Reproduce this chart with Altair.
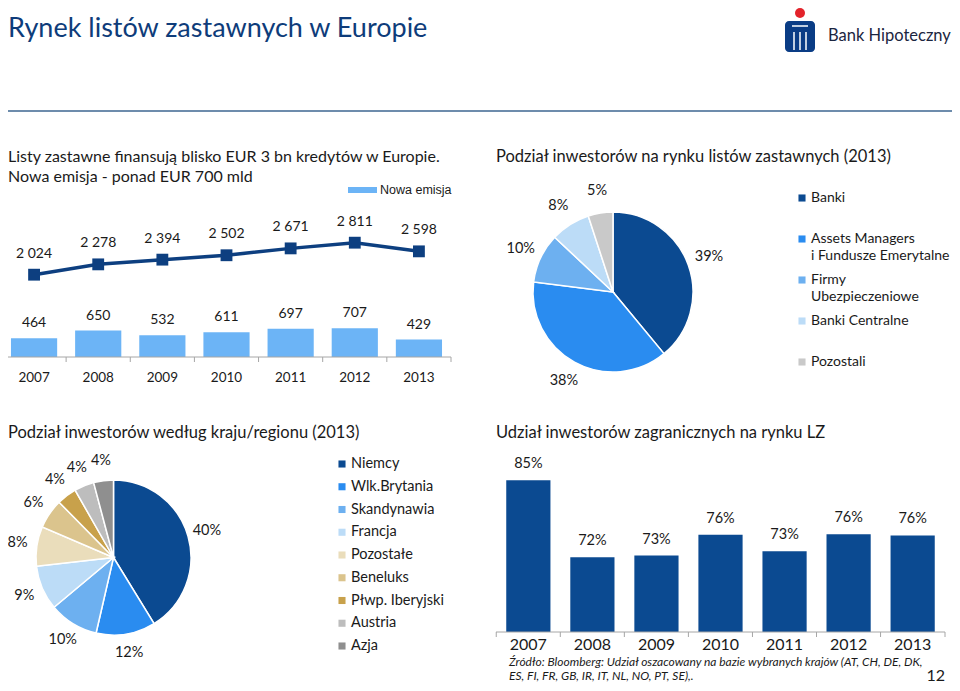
import altair as alt
import pandas as pd

# ---------------- data ----------------
years = ["2007", "2008", "2009", "2010", "2011", "2012", "2013"]
outstanding = [2024, 2278, 2394, 2502, 2671, 2811, 2598]      # EUR bn, line
new_issue = [464, 650, 532, 611, 697, 707, 429]               # EUR bn, bars

inv_types = ["Banki", "Assets Managers i Fundusze Emerytalne", "Firmy Ubezpieczeniowe",
             "Banki Centralne", "Pozostali"]
inv_legend = ["Banki", "Assets Managers\ni Fundusze Emerytalne", "Firmy\nUbezpieczeniowe",
              "Banki Centralne", "Pozostali"]
inv_share = [39, 38, 10, 8, 5]

regions = ["Niemcy", "Wlk.Brytania", "Skandynawia", "Francja", "Pozostałe", "Beneluks",
           "Płwp. Iberyjski", "Austria", "Azja"]
region_share = [40, 12, 10, 9, 8, 6, 4, 4, 4]

foreign_share = [85.0, 72.3, 72.6, 76.0, 73.3, 76.1, 75.9]   # %

# ---------------- style ----------------
FONT = "Lato"
INK = "#1a1a1a"
TITLE_BLUE = "#0E3C7A"
DARK = "#0B4A91"
LINE_DARK = "#0D3F80"
BRIGHT = "#2A8CF0"
MID = "#6DB0F0"
LIGHT = "#BCDCF7"
TL_BAR = "#6CB4F6"
AXIS = "#A6A6A6"
inv_colors = [DARK, BRIGHT, MID, LIGHT, "#C9C9C9"]
region_colors = [DARK, BRIGHT, MID, LIGHT, "#EADDBB", "#DBC48D", "#C8A14B", "#BDBDBD", "#8F8F8F"]

ONE = pd.DataFrame({"k": [0]})


def txt(s, x, y, size, color=INK, font=FONT, align="left", baseline="alphabetic",
        style="normal", weight="normal"):
    return alt.Chart(ONE).mark_text(
        text=s, align=align, baseline=baseline, font=font, fontSize=size, color=color,
        fontStyle=style, fontWeight=weight
    ).encode(x=alt.value(x), y=alt.value(y))


layers = []

# ---------------- header ----------------
layers.append(txt("Rynek listów zastawnych w Europie", 0, 29, 27, color=TITLE_BLUE))
layers.append(alt.Chart(ONE).mark_rule(color="#3C6690", strokeWidth=1.5).encode(
    x=alt.value(0), x2=alt.value(944), y=alt.value(103)))
# logo
layers.append(alt.Chart(ONE).mark_rect(color="#0A3C85", cornerRadius=4).encode(
    x=alt.value(777), x2=alt.value(807), y=alt.value(13), y2=alt.value(44)))
layers.append(alt.Chart(ONE).mark_rule(color="white", strokeWidth=1.5).encode(
    x=alt.value(784), x2=alt.value(800), y=alt.value(18)))
for xv in [786, 792, 798]:
    layers.append(alt.Chart(ONE).mark_rule(color="white", strokeWidth=1.5).encode(
        x=alt.value(xv), y=alt.value(24), y2=alt.value(42)))
layers.append(alt.Chart(ONE).mark_circle(color="#E3232B", size=100, opacity=1).encode(
    x=alt.value(792), y=alt.value(5)))
layers.append(txt("Bank Hipoteczny", 820, 33, 16.5, color="#1B2540"))

# ---------------- top-left: issuance ----------------
layers.append(txt("Listy zastawne finansują blisko EUR 3 bn kredytów w Europie.", 0, 154, 16))
layers.append(txt("Nowa emisja - ponad EUR 700 mld", 0, 174, 16))
layers.append(alt.Chart(ONE).mark_rect(color=TL_BAR).encode(
    x=alt.value(340), x2=alt.value(369), y=alt.value(179), y2=alt.value(185)))
layers.append(txt("Nowa emisja", 372, 182, 12.5, font="Liberation Sans", baseline="middle"))

df1 = pd.DataFrame({"year": years, "total": outstanding, "new": new_issue})
sc_x1 = alt.Scale(domain=years, range=[-6, 443], paddingInner=0.28, paddingOuter=0.14)
sc_y1 = alt.Scale(domain=[0, 3000], range=[349, 227])
x1 = alt.X("year:N", axis=None, scale=sc_x1)
base1 = alt.Chart(df1)
tl = alt.layer(
    base1.mark_bar(color=TL_BAR).encode(x=x1, y=alt.Y("new:Q", axis=None, scale=sc_y1)),
    base1.mark_text(dy=-15, font=FONT, fontSize=14, color=INK).encode(
        x=x1, y=alt.Y("new:Q", axis=None, scale=sc_y1), text=alt.Text("new:Q", format="d")),
    base1.mark_line(color=LINE_DARK, strokeWidth=3.5).encode(
        x=x1, y=alt.Y("total:Q", axis=None, scale=sc_y1)),
    base1.mark_square(color=LINE_DARK, size=140, opacity=1).encode(
        x=x1, y=alt.Y("total:Q", axis=None, scale=sc_y1)),
    base1.transform_calculate(lbl="replace(format(datum.total, ','), ',', ' ')").mark_text(
        dy=-21, font=FONT, fontSize=14, color=INK).encode(
        x=x1, y=alt.Y("total:Q", axis=None, scale=sc_y1), text="lbl:N"),
    base1.mark_text(font=FONT, fontSize=13.5, color=INK).encode(
        x=x1, y=alt.value(370), text="year:N"),
    base1.mark_rule(color=AXIS, xOffset=-9).encode(
        x=alt.X("year:N", axis=None, scale=sc_x1, bandPosition=0),
        y=alt.value(349), y2=alt.value(354)),
    alt.Chart(ONE).mark_rule(color=AXIS).encode(x=alt.value(443), y=alt.value(349), y2=alt.value(354)),
    alt.Chart(ONE).mark_rule(color=AXIS).encode(x=alt.value(-6), x2=alt.value(443), y=alt.value(349)),
)
layers.append(tl)

# ---------------- top-right: investor pie ----------------
layers.append(txt("Podział inwestorów na rynku listów zastawnych (2013)", 488, 154, 16.5))
df2 = pd.DataFrame({"cat": inv_types, "share": inv_share, "ord": list(range(len(inv_types))),
                    "legend": inv_legend})
col2 = alt.Color("cat:N", scale=alt.Scale(domain=inv_types, range=inv_colors), legend=None)
th2 = alt.Theta("share:Q", stack=True)
pie1 = alt.layer(
    alt.Chart(df2).mark_arc(radius=80, stroke="white", strokeWidth=1.5).encode(
        theta=th2, color=col2, order=alt.Order("ord:Q"), x=alt.value(605), y=alt.value(284)),
    alt.Chart(df2).transform_calculate(pct="datum.share + '%'").mark_text(
        radius=102, font=FONT, fontSize=14.5, color=INK).encode(
        theta=th2, detail="cat:N", order=alt.Order("ord:Q"), text="pct:N",
        x=alt.value(605), y=alt.value(284)),
)
layers.append(pie1)
ly2 = alt.Y("cat:N", axis=None,
            scale=alt.Scale(type="point", domain=inv_types, range=[190, 354], padding=0))
leg1 = alt.layer(
    alt.Chart(df2).mark_square(size=50, opacity=1).encode(x=alt.value(794), y=ly2, color=col2),
    alt.Chart(df2).mark_text(align="left", baseline="top", dy=-7, lineBreak="\n", lineHeight=17,
                             font=FONT, fontSize=14, color=INK).encode(
        x=alt.value(803), y=ly2, text="legend:N"),
)
layers.append(leg1)

# ---------------- bottom-left: region pie ----------------
layers.append(txt("Podział inwestorów według kraju/regionu (2013)", 0, 430, 16.5))
df3 = pd.DataFrame({"cat": regions, "share": region_share, "ord": list(range(len(regions)))})
col3 = alt.Color("cat:N", scale=alt.Scale(domain=regions, range=region_colors), legend=None)
th3 = alt.Theta("share:Q", stack=True)
pie2 = alt.layer(
    alt.Chart(df3).mark_arc(radius=77.5, stroke="white", strokeWidth=1.5).encode(
        theta=th3, color=col3, order=alt.Order("ord:Q"), x=alt.value(105.5), y=alt.value(549.5)),
    alt.Chart(df3).transform_calculate(pct="datum.share + '%'").mark_text(
        radius=97, font=FONT, fontSize=14.5, color=INK).encode(
        theta=th3, detail="cat:N", order=alt.Order("ord:Q"), text="pct:N",
        x=alt.value(105.5), y=alt.value(549.5)),
)
layers.append(pie2)
ly3 = alt.Y("cat:N", axis=None,
            scale=alt.Scale(type="point", domain=regions, range=[456, 638], padding=0))
leg2 = alt.layer(
    alt.Chart(df3).mark_square(size=50, opacity=1).encode(x=alt.value(334), y=ly3, color=col3),
    alt.Chart(df3).mark_text(align="left", baseline="middle", font=FONT, fontSize=14.5,
                             color=INK).encode(x=alt.value(343), y=ly3, text="cat:N"),
)
layers.append(leg2)

# ---------------- bottom-right: foreign investors ----------------
layers.append(txt("Udział inwestorów zagranicznych na rynku LZ", 488, 430, 16.5))
df4 = pd.DataFrame({"year": years, "share": foreign_share})
sc_x4 = alt.Scale(domain=years, range=[488, 937], paddingInner=0.31, paddingOuter=0.16)
sc_y4 = alt.Scale(domain=[60, 88], range=[624, 454])
x4 = alt.X("year:N", axis=None, scale=sc_x4)
y4 = alt.Y("share:Q", axis=None, scale=sc_y4)
base4 = alt.Chart(df4)
br = alt.layer(
    base4.mark_bar(color=DARK).encode(x=x4, y=y4, y2=alt.Y2Datum(datum=60)),
    base4.transform_calculate(lbl="format(datum.share / 100, '.0%')").mark_text(
        dy=-16, font=FONT, fontSize=14.5, color=INK).encode(x=x4, y=y4, text="lbl:N"),
    base4.mark_text(font=FONT, fontSize=16, color=INK).encode(x=x4, y=alt.value(637), text="year:N"),
    base4.mark_rule(color=AXIS, xOffset=-10).encode(
        x=alt.X("year:N", axis=None, scale=sc_x4, bandPosition=0),
        y=alt.value(624), y2=alt.value(629)),
    alt.Chart(ONE).mark_rule(color=AXIS).encode(x=alt.value(937), y=alt.value(624), y2=alt.value(629)),
    alt.Chart(ONE).mark_rule(color=AXIS).encode(x=alt.value(488), x2=alt.value(937), y=alt.value(624)),
)
layers.append(br)

# footnote + page number
layers.append(txt("Źródło: Bloomberg: Udział oszacowany na bazie wybranych krajów (AT, CH, DE, DK,",
                  501, 654, 12, style="italic", baseline="middle"))
layers.append(txt("ES, FI, FR, GB, IR, IT, NL, NO, PT, SE),.", 501, 668, 12, style="italic",
                  baseline="middle"))
layers.append(txt("12", 937, 668, 16, align="right", baseline="middle"))

chart = alt.layer(*layers).resolve_scale(
    x="independent", y="independent", color="independent", theta="independent"
).properties(
    width=944, height=675, padding=0, background="white",
    autosize=alt.AutoSizeParams(type="none"),
).configure_view(stroke=None)

chart.save("out.html", embed_options={"renderer": "svg", "actions": False})
